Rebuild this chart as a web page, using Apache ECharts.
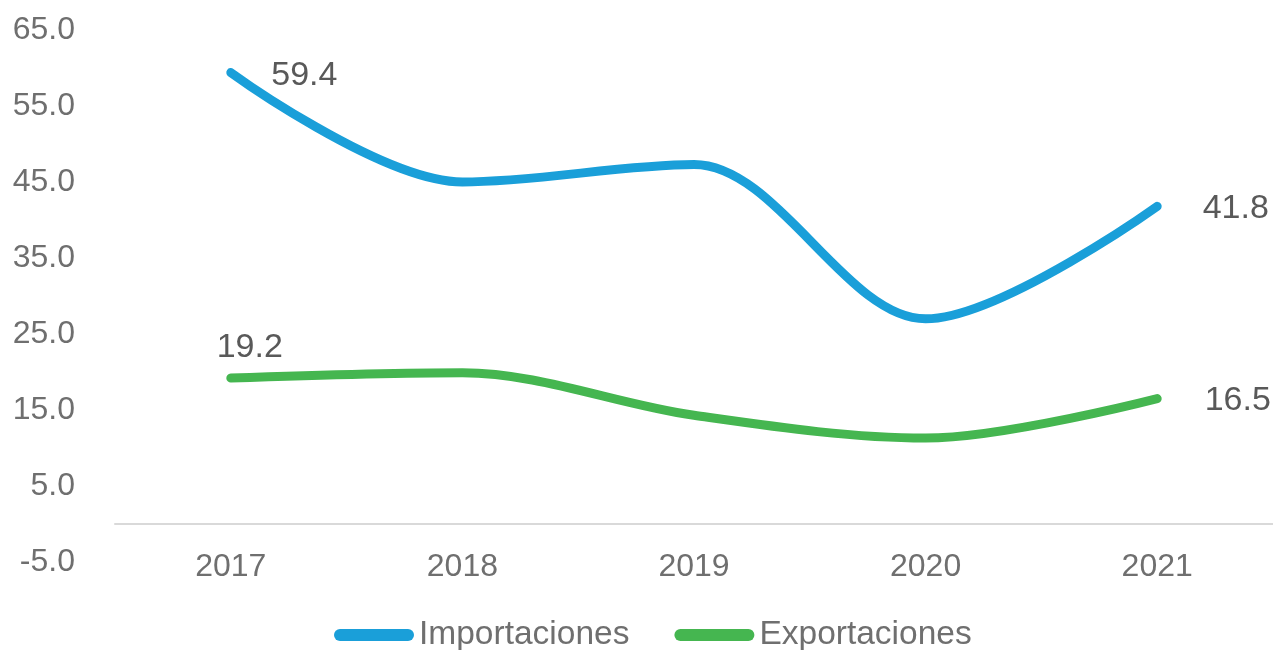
<!DOCTYPE html>
<html>
<head>
<meta charset="utf-8">
<script src="https://cdn.jsdelivr.net/npm/echarts@6/dist/echarts.min.js"></script>
<style>
  html, body { margin: 0; padding: 0; background: #ffffff; }
  #chart { width: 1273px; height: 650px; }
</style>
</head>
<body>
<div id="chart"></div>
<script>
// Years on the category axis
const years = ['2017', '2018', '2019', '2020', '2021'];
// Series values
const importaciones = [59.4, 45.0, 47.3, 27.0, 41.8];
const exportaciones = [19.2, 19.9, 14.3, 11.3, 16.5];
// Value axis range
const yMin = -5;
const yMax = 65;
const yStep = 10;

const FONT = '"Liberation Sans", Arial, sans-serif';
const axisColor = '#6f6f6f';
const labelColor = '#595959';
const blue = '#1a9fd9';
const green = '#45b650';

// Only the first and last point of each line carry a value label
function withEndLabels(values, firstLabel, lastLabel) {
  return values.map((v, i) => {
    if (i === 0) return { value: v, label: Object.assign({ show: true }, firstLabel) };
    if (i === values.length - 1) return { value: v, label: Object.assign({ show: true }, lastLabel) };
    return { value: v };
  });
}

const labelStyle = {
  show: false,
  fontFamily: FONT,
  fontSize: 34,
  color: labelColor,
  formatter: p => Number(p.value).toFixed(1)
};

const chart = echarts.init(document.getElementById('chart'), null, { renderer: 'canvas' });
chart.setOption({
  backgroundColor: '#ffffff',
  animation: false,
  grid: { left: 115, right: -6, top: 30, bottom: 88, containLabel: false },
  legend: {
    data: ['Importaciones', 'Exportaciones'],
    top: 613,
    left: 329,
    itemWidth: 80,
    itemHeight: 12,
    itemGap: 45,
    icon: 'path://M6,0 L74,0 A6,6 0 0 1 74,12 L6,12 A6,6 0 0 1 6,0 Z',
    textStyle: { fontFamily: FONT, fontSize: 33.5, color: axisColor }
  },
  xAxis: {
    type: 'category',
    data: years,
    boundaryGap: true,
    axisLine: { show: true, onZero: true, lineStyle: { color: '#d9d9d9', width: 2 } },
    axisTick: { show: false },
    axisLabel: { fontFamily: FONT, fontSize: 32, color: axisColor, margin: -11 },
    splitLine: { show: false }
  },
  yAxis: {
    type: 'value',
    min: yMin,
    max: yMax,
    interval: yStep,
    axisLine: { show: false },
    axisTick: { show: false },
    splitLine: { show: false },
    axisLabel: {
      fontFamily: FONT, fontSize: 32, color: axisColor, margin: 40,
      formatter: v => v.toFixed(1)
    }
  },
  series: [
    {
      name: 'Importaciones',
      type: 'line',
      smooth: 0.33,
      showSymbol: true,
      symbol: 'circle',
      symbolSize: 1,
      itemStyle: { color: blue },
      color: blue,
      lineStyle: { width: 9, color: blue, cap: 'round', join: 'round' },
      label: labelStyle,
      data: withEndLabels(importaciones,
        { position: 'right', distance: 40, offset: [0, 3] },
        { position: 'right', distance: 45, offset: [0, 2] })
    },
    {
      name: 'Exportaciones',
      type: 'line',
      smooth: 0.33,
      showSymbol: true,
      symbol: 'circle',
      symbolSize: 1,
      itemStyle: { color: green },
      color: green,
      lineStyle: { width: 9, color: green, cap: 'round', join: 'round' },
      label: labelStyle,
      data: withEndLabels(exportaciones,
        { position: 'top', distance: 14, offset: [19, 1] },
        { position: 'right', distance: 47, offset: [0, 2] })
    }
  ]
});
</script>
</body>
</html>
